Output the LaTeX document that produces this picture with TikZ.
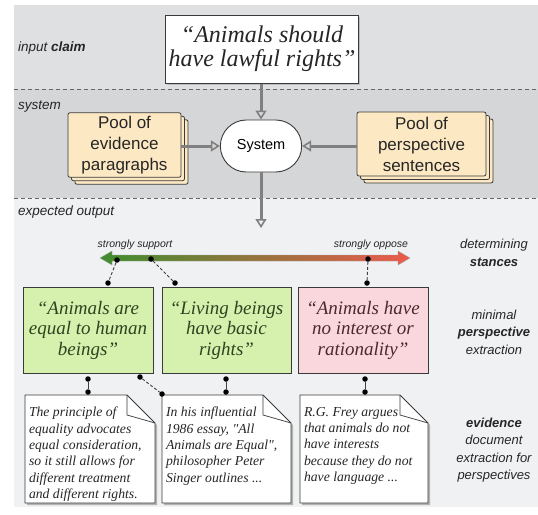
\documentclass[tikz,border=0pt]{standalone}
\usepackage{fontspec}
\setmainfont{Liberation Serif}[Ligatures=TeXOff]
\setsansfont{Liberation Sans}
\usetikzlibrary{arrows.meta,shapes.misc,shadows,calc}

\definecolor{bandA}{HTML}{DEE0E2}
\definecolor{bandB}{HTML}{D5D6D7}
\definecolor{bandC}{HTML}{EFF1F3}
\definecolor{poolfill}{HTML}{FCE8C3}
\definecolor{greenfill}{HTML}{D6F0AE}
\definecolor{pinkfill}{HTML}{F9D7DC}
\definecolor{arrowgray}{HTML}{808080}
\definecolor{greentext}{HTML}{2E4420}
\definecolor{pinktext}{HTML}{4A2A2A}
\definecolor{edgecol}{HTML}{3A3A3A}
\definecolor{barleft}{HTML}{3E8E2E}
\definecolor{barright}{HTML}{EC5A4C}

% document outline with folded corner: #1,#2 = left,top ; #3,#4 = right,bottom
\newcommand{\dogear}[4]{%
  \fill[black!30] (#1+2,#2+2) -- (#3-26,#2+2) -- (#3+2,#2+30) -- (#3+2,#4+2) -- (#1+2,#4+2) -- cycle;
  \draw[edgecol, fill=white, line width=0.8pt] (#1,#2) -- (#3-28,#2) -- (#3,#2+28) -- (#3,#4) -- (#1,#4) -- cycle;
  \draw[edgecol, line width=0.7pt] (#3-28,#2) -- (#3-28,#2+20) -- (#3,#2+28);
}

\begin{document}
\begin{tikzpicture}[x=1pt,y=-1pt,
  bandlabel/.style={font=\sffamily\itshape\fontsize{13.5}{15}\selectfont, anchor=west, text=black!85, inner sep=0pt},
  sidelabel/.style={font=\sffamily\itshape\fontsize{13}{17.5}\selectfont, align=center, text=black!85},
  stancelabel/.style={font=\sffamily\itshape\fontsize{10.5}{12}\selectfont, text=black!85},
  claimbox/.style={draw=edgecol, fill=white, line width=1pt, minimum width=182pt, minimum height=68pt,
     font=\itshape\fontsize{24}{24}\selectfont, align=center, text=black!85,
     drop shadow={shadow xshift=1.5pt, shadow yshift=-1.5pt, fill=black!40, opacity=.5}},
  poolbox/.style={draw=edgecol, fill=poolfill, line width=0.8pt, rounded corners=2pt, minimum height=64pt,
     font=\sffamily\fontsize{17}{21}\selectfont, align=center, text=black!85,
     double copy shadow={shadow xshift=3.5pt, shadow yshift=-3.5pt}},
  sysnode/.style={rounded rectangle, draw=edgecol, fill=white, line width=0.9pt, minimum width=88pt,
     minimum height=52pt, font=\sffamily\fontsize{14.5}{18}\selectfont},
  flow/.style={arrowgray, line width=3pt, -{Triangle[open, length=9pt, width=11pt, line width=1.6pt]}},
  persp/.style={draw=edgecol, line width=0.8pt, minimum height=86pt, align=center,
     font=\itshape\fontsize{19}{20.5}\selectfont},
  docbox/.style={inner sep=5pt, font=\itshape\fontsize{13.7}{16.4}\selectfont, text=black!85},
  dot/.style={circle, fill=black, inner sep=0pt, minimum size=5.5pt},
  link/.style={black!75, line width=0.9pt, dash pattern=on 3pt off 2pt},
  solidlink/.style={black!75, line width=0.9pt}
]
\useasboundingbox (0,0) rectangle (538,514);

% bands
\fill[bandA] (14,5) rectangle (538,89);
\fill[bandB] (14,89) rectangle (538,198);
\fill[bandC] (14,198) rectangle (538,507);
\draw[black!60, line width=0.8pt, dash pattern=on 4pt off 3pt] (14,89) -- (538,89);
\draw[black!60, line width=0.8pt, dash pattern=on 4pt off 3pt] (14,198) -- (538,198);

% band labels
\node[bandlabel] (lclaim) at (18,48) {input \textbf{claim}};
\node[bandlabel] (lsys) at (18,107) {system};
\node[bandlabel] (lout) at (18,212) {expected output};

% side labels
\node[sidelabel] (ldet) at (494,253) {determining\\\textbf{stances}};
\node[sidelabel] (lmin) at (494,332) {minimal\\\textbf{perspective}\\extraction};
\node[sidelabel] (lev) at (494,450) {\textbf{evidence}\\document\\extraction for\\perspectives};

% claim and system
\node[claimbox] (claim) at (262,49) {“Animals should\\have lawful rights”};
\node[sysnode] (sys) at (261,146) {System};
\node[poolbox, minimum width=113pt] (evpool) at (124.5,145) {Pool of\\evidence\\paragraphs};
\node[poolbox, minimum width=129pt] (pspool) at (421.5,144) {Pool of\\perspective\\sentences};
\coordinate (outarrow) at (261,228);

\draw[flow] (claim.south -| sys.north) -- (sys.north);
\draw[flow] (evpool.east |- sys.west) -- (sys.west);
\draw[flow] (pspool.west |- sys.east) -- (sys.east);
\draw[flow] (sys.south) -- (outarrow);

% stance bar
\shade[left color=barleft, right color=barright, draw=black!35, line width=0.3pt]
  (100,258) -- (112,251) -- (112,255) -- (398,255) -- (398,251) -- (410,258)
  -- (398,265) -- (398,261) -- (112,261) -- (112,265) -- cycle;
\node[stancelabel] (lsup) at (135,245) {strongly support};
\node[stancelabel] (lopp) at (371,245) {strongly oppose};

% perspectives
\node[persp, fill=greenfill, text=greentext, minimum width=130pt] (p1) at (88,330) {“Animals are\\equal to human\\beings”};
\node[persp, fill=greenfill, text=greentext, minimum width=129pt] (p2) at (226.5,330) {“Living beings\\have basic\\rights”};
\node[persp, fill=pinkfill, text=pinktext, minimum width=130pt] (p3) at (363,330) {“Animals have\\no interest or\\rationality”};

% stance dots
\node[dot] (s1) at (117,260) {};
\node[dot] (s2) at (151,259) {};
\node[dot] (s3) at (368,259) {};
\node[dot] (t1) at (108,283) {};
\node[dot] (t2) at (175,283) {};
\node[dot] (t3) at (367,283) {};
\draw[link] (s1) -- (t1);
\draw[link] (s2) -- (t2);
\draw[link] (s3) -- (t3);

% documents
\dogear{25}{395}{155}{503}
\dogear{162}{395}{291}{503}
\dogear{300}{395}{428}{503}
\node[docbox] (d1) at (90,456) {\parbox[c][98pt][t]{122pt}{The principle of\\equality advocates\\equal consideration,\\so it still allows for\\different treatment\\and different rights.}};
\node[docbox] (d2) at (226.5,456) {\parbox[c][98pt][t]{121pt}{In his influential\\1986 essay, "All\\Animals are Equal",\\philosopher Peter\\Singer outlines ...}};
\node[docbox] (d3) at (364,456) {\parbox[c][98pt][t]{120pt}{R.G. Frey argues\\that animals do not\\have interests\\because they do not\\have language ...}};

% evidence links
\node[dot] (b1) at (88,379) {};
\node[dot] (e1) at (88,392) {};
\node[dot] (b2) at (226,379) {};
\node[dot] (e2) at (226,392) {};
\node[dot] (b3) at (365,379) {};
\node[dot] (e3) at (365,392) {};
\node[dot] (b1x) at (140,377) {};
\node[dot] (e2x) at (162,394) {};
\draw[solidlink] (b1) -- (e1);
\draw[solidlink] (b2) -- (e2);
\draw[solidlink] (b3) -- (e3);
\draw[link] (b1x) -- (e2x);
\end{tikzpicture}
\end{document}
